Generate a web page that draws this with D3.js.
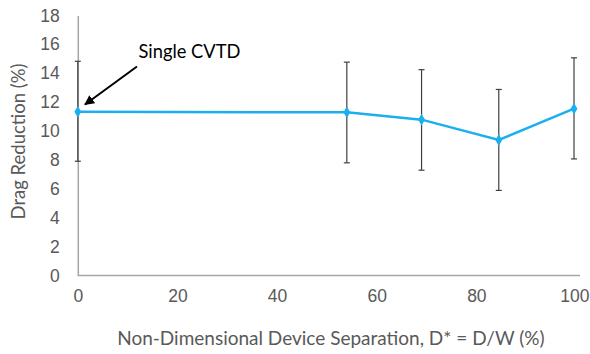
<!DOCTYPE html>
<html>
<head>
<meta charset="utf-8">
<script src="https://cdn.jsdelivr.net/npm/d3@7"></script>
<style>
  body { margin: 0; background: #fff; }
  svg { display: block; font-family: Lato, "Open Sans", sans-serif; }
</style>
</head>
<body>
<div id="chart"></div>
<script>
// separation D* (%) and drag reduction (%)
var separation = [0, 54, 69, 84.5, 99.6];
var dragReduction = [11.33, 11.30, 10.79, 9.38, 11.55];
var errPlus = [3.5, 3.47, 3.46, 3.5, 3.52];
var errMinus = [3.42, 3.5, 3.5, 3.49, 3.48];
var xTicks = [0, 20, 40, 60, 80, 100];
var yTicks = [0, 2, 4, 6, 8, 10, 12, 14, 16, 18];

var width = 590, height = 354;
var margin = { top: 15.5, right: 14, bottom: 78.5, left: 77.8 };

var svg = d3.select("#chart").append("svg")
    .attr("width", width)
    .attr("height", height);

var x = d3.scaleLinear().domain([0, 100]).range([margin.left, 576]);
var y = d3.scaleLinear().domain([0, 18]).range([height - margin.bottom, margin.top]);

var data = separation.map(function(d, i) {
    return { x: d, y: dragReduction[i], hi: errPlus[i], lo: errMinus[i] };
});

// axes, no tick marks
var xAxis = svg.append("g")
    .attr("transform", "translate(0," + y(0) + ")")
    .call(d3.axisBottom(x).tickValues(xTicks).tickSize(0).tickPadding(14));
xAxis.select(".domain").attr("stroke", "#a6a6a6").attr("stroke-width", 1.5)
    .attr("d", "M" + x(0) + ",0H580");

var yAxis = svg.append("g")
    .attr("transform", "translate(" + x(0) + ",0)")
    .call(d3.axisLeft(y).tickValues(yTicks).tickSize(0).tickPadding(18));
yAxis.select(".domain").attr("stroke", "#a6a6a6").attr("stroke-width", 1.5);

svg.selectAll(".tick text")
    .attr("fill", "#595959")
    .style("font-size", "17.5px");
// keep the last label inside the page
xAxis.selectAll(".tick text")
    .filter(function(d) { return d === 100; })
    .attr("text-anchor", "end")
    .attr("x", 13);

// error bars
var bars = svg.append("g").selectAll(".err")
    .data(data)
    .enter().append("g")
    .attr("stroke", "#404040")
    .attr("stroke-width", 1.2);
bars.append("line")
    .attr("x1", function(d) { return x(d.x); })
    .attr("x2", function(d) { return x(d.x); })
    .attr("y1", function(d) { return y(d.y + d.hi); })
    .attr("y2", function(d) { return y(d.y - d.lo); });
bars.append("line")
    .attr("x1", function(d) { return x(d.x) - 3; })
    .attr("x2", function(d) { return x(d.x) + 3; })
    .attr("y1", function(d) { return y(d.y + d.hi); })
    .attr("y2", function(d) { return y(d.y + d.hi); });
bars.append("line")
    .attr("x1", function(d) { return x(d.x) - 3; })
    .attr("x2", function(d) { return x(d.x) + 3; })
    .attr("y1", function(d) { return y(d.y - d.lo); })
    .attr("y2", function(d) { return y(d.y - d.lo); });

// series line
var line = d3.line()
    .x(function(d) { return x(d.x); })
    .y(function(d) { return y(d.y); });
svg.append("path")
    .datum(data)
    .attr("d", line)
    .attr("fill", "none")
    .attr("stroke", "#1caff0")
    .attr("stroke-width", 2.5);

svg.append("g").selectAll(".pt")
    .data(data)
    .enter().append("path")
    .attr("d", d3.symbol().type(d3.symbolDiamond).size(40))
    .attr("transform", function(d) { return "translate(" + x(d.x) + "," + y(d.y) + ")"; })
    .attr("fill", "#1caff0");

// annotation
svg.append("defs").append("marker")
    .attr("id", "head")
    .attr("viewBox", "0 0 10 10")
    .attr("refX", 9).attr("refY", 5)
    .attr("markerWidth", 5).attr("markerHeight", 5)
    .attr("orient", "auto")
    .append("path")
    .attr("d", "M0,0L10,5L0,10z")
    .attr("fill", "#000");
svg.append("line")
    .attr("x1", 137).attr("y1", 66.5)
    .attr("x2", 85).attr("y2", 104.5)
    .attr("stroke", "#000")
    .attr("stroke-width", 2)
    .attr("marker-end", "url(#head)");
svg.append("text")
    .attr("x", 138.5).attr("y", 57.5)
    .attr("fill", "#000")
    .style("font-size", "18.3px")
    .text("Single CVTD");

// axis titles
svg.append("text")
    .attr("x", (x(0) + 580) / 2 + 2)
    .attr("y", 345)
    .attr("text-anchor", "middle")
    .attr("fill", "#595959")
    .style("font-size", "19px")
    .text("Non-Dimensional Device Separation, D* = D/W (%)");

svg.append("text")
    .attr("transform", "translate(25," + ((y(0) + y(18)) / 2 - 4) + ") rotate(-90)")
    .attr("text-anchor", "middle")
    .attr("fill", "#595959")
    .style("font-size", "18.5px")
    .text("Drag Reduction (%)");
</script>
</body>
</html>
